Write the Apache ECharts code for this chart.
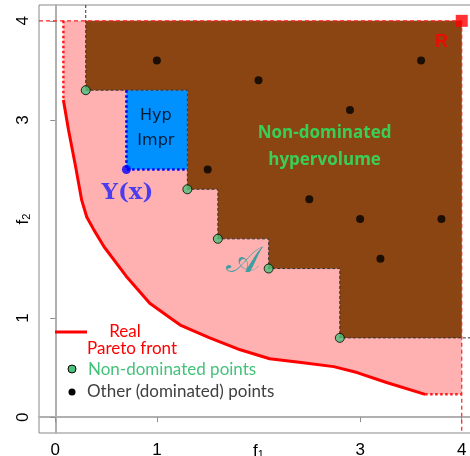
<!DOCTYPE html>
<html>
<head>
<meta charset="utf-8">
<script src="https://cdn.jsdelivr.net/npm/echarts@6/dist/echarts.min.js"></script>
<style>
  html, body { margin: 0; padding: 0; background: #fff; }
  #chart { width: 470px; height: 456px; }
</style>
</head>
<body>
<div id="chart"></div>
<script>
// Objective space (f1, f2): reference point, archive A, candidate Y(x)
const refPoint = [4, 4];
const nonDominated = [[0.3, 3.3], [1.3, 2.3], [1.6, 1.8], [2.1, 1.5], [2.8, 0.8]];
const dominated = [[1.0, 3.6], [2.0, 3.4], [3.6, 3.6], [2.9, 3.1], [1.5, 2.5],
                   [2.5, 2.2], [3.0, 2.0], [3.8, 2.0], [3.2, 1.6]];
const candidate = [0.7, 2.5];
const paretoFront = [[0.08, 3.20], [0.13, 2.90], [0.20, 2.53], [0.26, 2.19], [0.31, 2.02],
                     [0.38, 1.89], [0.48, 1.72], [0.70, 1.42], [0.93, 1.15], [1.16, 0.98],
                     [1.23, 0.93], [1.52, 0.80], [1.82, 0.68], [2.11, 0.59], [2.44, 0.55],
                     [2.74, 0.51], [2.97, 0.45], [3.26, 0.35], [3.64, 0.23]];
const tickValues = [0, 1, 3, 4];
const labelValues = [0, 1, 2, 3, 4];
const axisMin = -0.16, axisMax = 4.16;

// Derived geometry
const nd = nonDominated.slice().sort((a, b) => a[0] - b[0]);
const last = nd[nd.length - 1];
const frontStart = paretoFront[0];
const frontEnd = paretoFront[paretoFront.length - 1];

// region between the true front and the reference box
const pinkPoly = [[frontStart[0], refPoint[1]], refPoint, [refPoint[0], frontEnd[1]]]
  .concat(paretoFront.slice().reverse());

// staircase dominated by the archive, bounded by R
const stairs = [];
nd.forEach((p, i) => {
  if (i > 0) stairs.push([p[0], nd[i - 1][1]]);
  stairs.push(p);
});
const brownPoly = [[nd[0][0], refPoint[1]]].concat(stairs, [[refPoint[0], last[1]], refPoint]);
const stairOutline = [[nd[0][0], axisMax]].concat(stairs, [[axisMax, last[1]]]);

// hypervolume improvement box of the candidate
const boxRight = Math.min(...nd.filter(p => p[0] > candidate[0]).map(p => p[0]));
const boxTop = nd.filter(p => p[0] < candidate[0]).map(p => p[1]).reduce((a, b) => Math.min(a, b));
const improveBox = [candidate, [boxRight, candidate[1]], [boxRight, boxTop], [candidate[0], boxTop]];

function polygonSeries(points, color, z) {
  return {
    type: 'custom',
    coordinateSystem: 'cartesian2d',
    z: z,
    silent: true,
    data: [0],
    renderItem: (params, api) => ({
      type: 'polygon',
      shape: { points: points.map(p => api.coord(p)) },
      style: { fill: color }
    })
  };
}

const chart = echarts.init(document.getElementById('chart'), null, { renderer: 'canvas' });

const tickFont = 'Liberation Sans, Arial, sans-serif';
const legendFont = 'Lato, sans-serif';
const axisRich = {
  f: { fontSize: 17, lineHeight: 18, fontFamily: tickFont, color: '#000' },
  s: { fontSize: 11, lineHeight: 11, verticalAlign: 'bottom', fontFamily: tickFont, color: '#000' }
};

chart.setOption({
  animation: false,
  backgroundColor: '#fff',
  grid: {
    left: 39, top: 5, width: 439, height: 428,
    outerBoundsMode: 'none', containLabel: false,
    show: true, borderColor: '#888', borderWidth: 1, backgroundColor: 'transparent'
  },
  xAxis: {
    type: 'value', min: axisMin, max: axisMax,
    axisLine: { show: true, lineStyle: { color: '#b0b0b0', width: 2 } },
    axisTick: { show: true, customValues: tickValues, length: 5, lineStyle: { color: '#909090' } },
    axisLabel: {
      customValues: labelValues, margin: 9, fontSize: 17, color: '#000', fontFamily: tickFont,
      rich: axisRich,
      formatter: v => (v === 2 ? '{f|f}{s|1}' : String(v))
    },
    splitLine: { show: false }
  },
  yAxis: {
    type: 'value', min: axisMin, max: axisMax,
    axisLine: { show: true, lineStyle: { color: '#b0b0b0', width: 2 } },
    axisTick: { show: true, customValues: tickValues, length: 5, lineStyle: { color: '#909090' } },
    axisLabel: {
      customValues: labelValues, margin: 7, fontSize: 17, color: '#000', fontFamily: tickFont,
      rotate: 90, rich: axisRich,
      formatter: v => (v === 2 ? '{f|f}{s|2}' : String(v))
    },
    splitLine: { show: false }
  },
  series: [
    polygonSeries(pinkPoly, '#ffb1b1', 1),
    polygonSeries(brownPoly, '#8b4513', 2),
    polygonSeries(improveBox, '#0091ff', 3),
    {
      type: 'lines', coordinateSystem: 'cartesian2d', polyline: true, z: 4, silent: true,
      lineStyle: { color: '#333', width: 1, type: [3, 2], opacity: 1 },
      data: [{ coords: stairOutline }]
    },
    {
      type: 'lines', coordinateSystem: 'cartesian2d', polyline: true, z: 4, silent: true,
      lineStyle: { color: '#ff2020', width: 1.2, type: [4, 3], opacity: 1 },
      data: [
        { coords: [[axisMin, refPoint[1]], refPoint] },
        { coords: [refPoint, [refPoint[0], axisMin]] }
      ]
    },
    {
      type: 'lines', coordinateSystem: 'cartesian2d', polyline: true, z: 5, silent: true,
      lineStyle: { color: '#ff1a1a', width: 2.5, type: [2.5, 2.5], cap: 'butt', opacity: 1 },
      data: [
        { coords: [[frontStart[0], refPoint[1]], frontStart] },
        { coords: [frontEnd, [refPoint[0], frontEnd[1]]] }
      ]
    },
    {
      type: 'lines', coordinateSystem: 'cartesian2d', polyline: true, z: 5, silent: true,
      lineStyle: { color: '#0000ff', width: 2.5, type: [2.5, 2.5], cap: 'butt', opacity: 1 },
      data: [{ coords: [[candidate[0], boxTop], candidate, [boxRight, candidate[1]]] }]
    },
    {
      name: 'Real Pareto front', type: 'line', z: 5, silent: true,
      data: paretoFront, showSymbol: false, smooth: false,
      lineStyle: { color: '#ff0000', width: 3, join: 'round' }
    },
    {
      name: 'Other (dominated) points', type: 'scatter', z: 6, silent: true,
      data: dominated, symbolSize: 8, itemStyle: { color: '#000' }
    },
    {
      name: 'Non-dominated points', type: 'scatter', z: 6, silent: true,
      data: nd, symbolSize: 9,
      itemStyle: { color: '#4cc27c', borderColor: '#000', borderWidth: 1 }
    },
    {
      type: 'scatter', z: 6, silent: true,
      data: [candidate], symbolSize: 9, itemStyle: { color: '#0000ff' }
    },
    {
      type: 'scatter', z: 6, silent: true,
      data: [refPoint], symbol: 'rect', symbolSize: 12, itemStyle: { color: '#ff0000' }
    },
    {
      // text annotations anchored in data space
      type: 'scatter', z: 7, silent: true, symbolSize: 0,
      label: { show: true, position: 'inside' },
      data: [
        { value: [0.99, 2.92], label: { formatter: 'Hyp\nImpr', fontSize: 16, lineHeight: 25,
            color: '#000', fontFamily: 'DejaVu Sans, sans-serif' } },
        { value: [0.71, 2.26], label: { formatter: 'Y(x)', fontSize: 23, fontWeight: 'bold',
            color: '#1f1fff', fontFamily: 'DejaVu Serif, serif' } },
        { value: [1.85, 1.56], label: { formatter: '\uD835\uDC9C', fontSize: 36,
            color: '#109a9a', fontFamily: 'DejaVu Serif, Noto Sans, serif' } },
        { value: [2.65, 2.73], label: { formatter: 'Non-dominated\nhypervolume', fontSize: 17,
            lineHeight: 27, fontWeight: 'bold', color: '#26f068', fontFamily: 'Open Sans, sans-serif' } },
        { value: [3.80, 3.79], label: { formatter: 'R', fontSize: 18, fontWeight: 'bold',
            color: '#ff0000', fontFamily: tickFont } }
      ]
    }
  ],
  graphic: [
    { type: 'line', shape: { x1: 55, y1: 332, x2: 87, y2: 332 }, style: { stroke: '#ff0000', lineWidth: 3 }, z: 10 },
    { type: 'text', x: 125, y: 332, style: { text: 'Real', fill: '#ff0000', font: '17px ' + legendFont, align: 'center', verticalAlign: 'middle' }, z: 10 },
    { type: 'text', x: 87, y: 349, style: { text: 'Pareto front', fill: '#ff0000', font: '17px ' + legendFont, align: 'left', verticalAlign: 'middle' }, z: 10 },
    { type: 'circle', shape: { cx: 72, cy: 369, r: 4 }, style: { fill: '#4cc27c', stroke: '#000', lineWidth: 1 }, z: 10 },
    { type: 'text', x: 88, y: 370, style: { text: 'Non-dominated points', fill: '#45c27a', font: '17px ' + legendFont, align: 'left', verticalAlign: 'middle' }, z: 10 },
    { type: 'circle', shape: { cx: 72, cy: 392, r: 3.5 }, style: { fill: '#000' }, z: 10 },
    { type: 'text', x: 87, y: 392, style: { text: 'Other (dominated) points', fill: '#404040', font: '17px ' + legendFont, align: 'left', verticalAlign: 'middle' }, z: 10 }
  ]
});
</script>
</body>
</html>
